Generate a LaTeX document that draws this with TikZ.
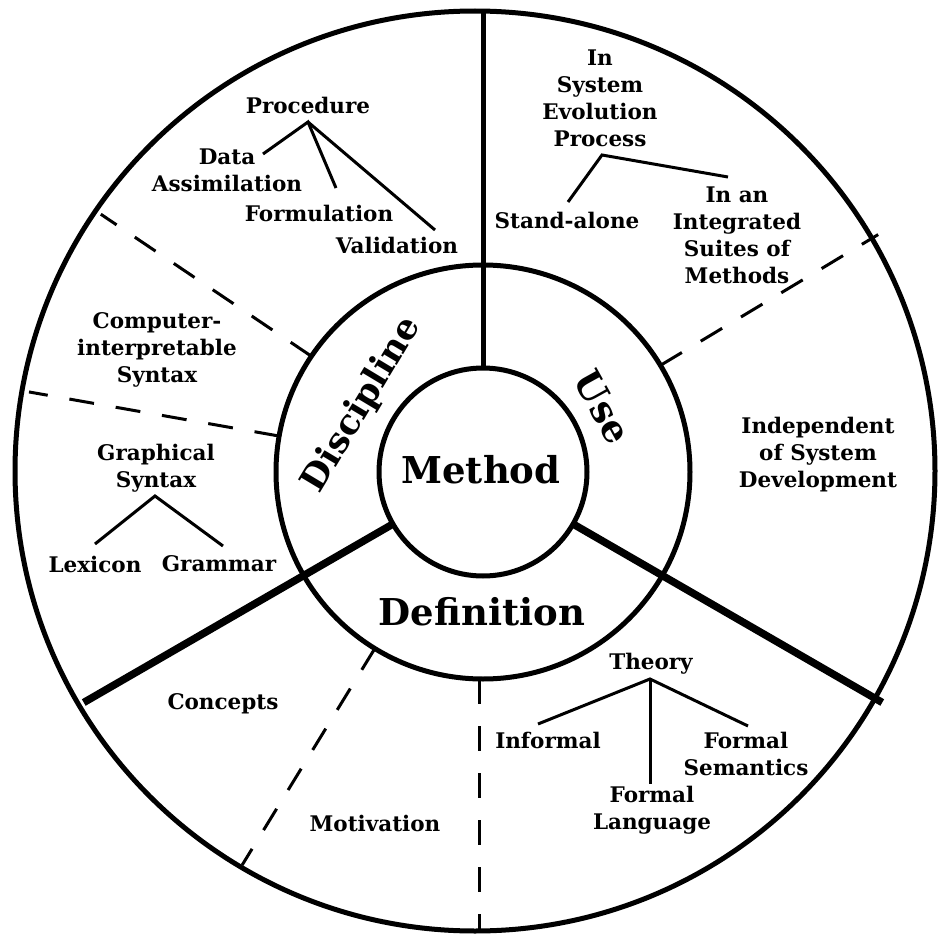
\documentclass[tikz,border=0pt]{standalone}
\usepackage{fontspec}
\setmainfont{DejaVu Serif}
\usetikzlibrary{positioning,calc}

\tikzset{
  ring/.style={line width=5pt},
  spoke/.style={line width=7.5pt},
  divider/.style={line width=3pt, dash pattern=on 25pt off 22pt},
  branch/.style={line width=3pt},
  item/.style={font=\fontsize{21.5}{27}\selectfont\bfseries, align=center, inner sep=0pt},
  sector/.style={font=\fontsize{37}{37}\selectfont\bfseries, inner sep=0pt}
}

\begin{document}
\begin{tikzpicture}[x=1pt,y=1pt]

		\useasboundingbox (0,0) rectangle (938,-934);
		\coordinate (C) at (483,-472);
		\coordinate (O) at (475,-471);

		% spokes and dividers of the rings
		\begin{scope}[shift={(C)}]
			\draw[ring] (90:104) -- (90:461);
			\draw[spoke] (210:104) -- (210:461);
			\draw[spoke] (330:104) -- (330:461);
			\draw[divider] (146:207) -- (146:461);
			\draw[divider] (170:207) -- (170:461);
			\draw[divider] (31:207) -- (31:461);
			\draw[divider] (238.5:207) -- (238.5:461);
			\draw[divider] (-4,-207) -- (-4,-459);
		\end{scope}

		\draw[ring] (C) circle (104pt);
		\draw[ring] (C) circle (207pt);
		\draw[ring] (O) circle (460pt);

		\node[sector] (method) at (481,-470) {Method};
		\node[sector] (definition) at (482,-612) {Definition};
		\node[sector, rotate=59, font=\fontsize{35}{35}\selectfont\bfseries] (discipline) at (362,-405) {Discipline};
		\node[sector, rotate=-61] (use) at (603,-407) {Use};

		% discipline
		\node[item] (procedure) at (308,-105) {Procedure};
		\node[item] (assimilation) at (227,-170) {Data\\Assimilation};
		\node[item] (formulation) at (319,-213) {Formulation};
		\node[item] (validation) at (397,-245) {Validation};
		\node[item] (interpretable) at (157,-350) {Computer-\\interpretable\\Syntax};
		\node[item] (graphical) at (156,-468) {Graphical\\Syntax};
		\node[item] (lexicon) at (95,-564) {Lexicon};
		\node[item] (grammar) at (219,-564) {Grammar};

		\coordinate (procroot) at (308,-122);
		\coordinate (procA) at (263,-154);
		\coordinate (procB) at (336,-188);
		\coordinate (procC) at (435,-230);
		\draw[branch] (procA) -- (procroot) -- (procB);
		\draw[branch] (procroot) -- (procC);

		\coordinate (syntaxroot) at (155,-496);
		\coordinate (syntaxA) at (95,-544);
		\coordinate (syntaxB) at (223,-546);
		\draw[branch] (syntaxA) -- (syntaxroot) -- (syntaxB);

		% definition
		\node[item] (concepts) at (223,-704) {Concepts};
		\node[item] (motivation) at (375,-823) {Motivation};
		\node[item] (theory) at (651,-664) {Theory};
		\node[item] (informal) at (548,-740) {Informal};
		\node[item] (semantics) at (746,-754) {Formal\\Semantics};
		\node[item] (language) at (652,-810) {Formal\\Language};

		\coordinate (theoryroot) at (650,-679);
		\coordinate (theoryA) at (538,-724);
		\coordinate (theoryB) at (650,-784);
		\coordinate (theoryC) at (748,-726);
		\draw[branch] (theoryA) -- (theoryroot) -- (theoryC);
		\draw[branch] (theoryroot) -- (theoryB);

		% use
		\node[item] (evolution) at (600,-98) {In\\System\\Evolution\\Process};
		\node[item] (standalone) at (567,-220) {Stand-alone};
		\node[item] (suites) at (737,-235) {In an\\Integrated\\Suites of\\Methods};
		\node[item] (independent) at (818,-455) {Independent\\of System\\Development};

		\coordinate (useroot) at (602,-155);
		\coordinate (useA) at (568,-202);
		\coordinate (useB) at (728,-177);
		\draw[branch] (useA) -- (useroot) -- (useB);

\end{tikzpicture}
\end{document}
